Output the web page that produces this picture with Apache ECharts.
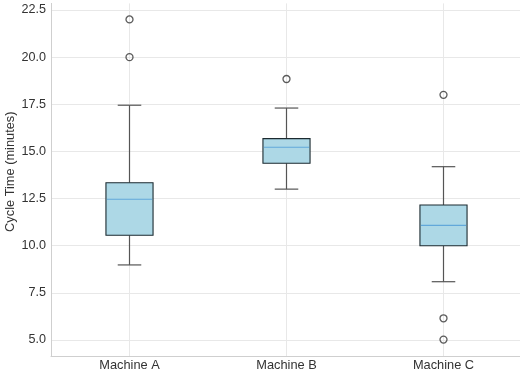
<!DOCTYPE html>
<html>
<head>
<meta charset="utf-8">
<script src="https://cdn.jsdelivr.net/npm/echarts@6/dist/echarts.min.js"></script>
<style>html,body{margin:0;padding:0;background:#fff}#c{width:520px;height:372px}</style>
</head>
<body>
<div id="c"></div>
<script>
const categories = ['Machine A', 'Machine B', 'Machine C'];
const whiskerLow = [8.98, 13.0, 8.09];
const q1 = [10.55, 14.37, 10.0];
const median = [12.46, 15.22, 11.08];
const q3 = [13.34, 15.68, 12.16];
const whiskerHigh = [17.45, 17.3, 14.19];
const outliersA = [22.0, 20.0];
const outliersB = [18.84];
const outliersC = [18.0, 6.15, 5.02];
const yTicks = [5.0, 7.5, 10.0, 12.5, 15.0, 17.5, 20.0, 22.5];

const boxData = categories.map((c, i) => [i + 1, whiskerLow[i], q1[i], median[i], q3[i], whiskerHigh[i]]);
const outlierData = [];
[outliersA, outliersB, outliersC].forEach((arr, i) => arr.forEach(v => outlierData.push([i + 1, v])));

const font = 'Liberation Sans, Arial, sans-serif';
const chart = echarts.init(document.getElementById('c'), null, {renderer: 'canvas'});
chart.setOption({
  animation: false,
  grid: {left: 51, top: 3.4, width: 471, bottom: 16, containLabel: false, outerBoundsMode: 'none'},
  xAxis: {
    type: 'value', min: 0.5, max: 3.5,
    axisLine: {show: true, lineStyle: {color: '#cfcfcf', width: 1}},
    axisTick: {show: false, customValues: [1, 2, 3]},
    axisLabel: {customValues: [1, 2, 3], formatter: v => categories[Math.round(v) - 1] || '',
      color: '#333', fontSize: 12.8, fontFamily: font, margin: 3},
    splitLine: {show: true, lineStyle: {color: '#e8e8e8', width: 1}}
  },
  yAxis: {
    type: 'value', min: 4.15, max: 22.85,
    name: 'Cycle Time (minutes)', nameLocation: 'middle', nameGap: 34, nameMoveOverlap: false,
    nameTextStyle: {color: '#333', fontSize: 12.8, fontFamily: font, padding: [0, 0, 0, 16]},
    axisLine: {show: true, lineStyle: {color: '#cfcfcf', width: 1}},
    axisTick: {show: false, customValues: yTicks},
    axisLabel: {customValues: yTicks, formatter: v => v.toFixed(1),
      color: '#333', fontSize: 12.6, fontFamily: font, margin: 5},
    splitLine: {show: true, lineStyle: {color: '#e8e8e8', width: 1}}
  },
  series: [
    {
      type: 'custom',
      data: boxData,
      encode: {x: 0, y: [1, 2, 3, 4, 5]},
      renderItem: function (params, api) {
        const x = api.value(0);
        const pLow = api.coord([x, api.value(1)]);
        const pQ1 = api.coord([x, api.value(2)]);
        const pMed = api.coord([x, api.value(3)]);
        const pQ3 = api.coord([x, api.value(4)]);
        const pHigh = api.coord([x, api.value(5)]);
        const bw = api.size([0.3, 0])[0];
        const cw = bw / 2;
        const cx = pQ1[0];
        const wStyle = {stroke: '#555', lineWidth: 1.2, fill: null};
        return {
          type: 'group',
          children: [
            {type: 'line', shape: {x1: cx, y1: pLow[1], x2: cx, y2: pQ1[1]}, style: wStyle},
            {type: 'line', shape: {x1: cx, y1: pQ3[1], x2: cx, y2: pHigh[1]}, style: wStyle},
            {type: 'line', shape: {x1: cx - cw / 2, y1: pLow[1], x2: cx + cw / 2, y2: pLow[1]}, style: wStyle},
            {type: 'line', shape: {x1: cx - cw / 2, y1: pHigh[1], x2: cx + cw / 2, y2: pHigh[1]}, style: wStyle},
            {type: 'rect', shape: {x: cx - bw / 2, y: pQ3[1], width: bw, height: pQ1[1] - pQ3[1]},
              style: {fill: '#add8e6', stroke: '#1c2a30', lineWidth: 1.1}},
            {type: 'line', shape: {x1: cx - bw / 2 + 1, y1: pMed[1], x2: cx + bw / 2 - 1, y2: pMed[1]},
              style: {stroke: '#62a8da', lineWidth: 1.1}}
          ]
        };
      },
      z: 3
    },
    {
      type: 'scatter',
      data: outlierData,
      symbol: 'circle',
      symbolSize: 7,
      itemStyle: {color: 'rgba(255,255,255,0)', borderColor: '#333', borderWidth: 1.3},
      z: 4
    }
  ]
});
</script>
</body>
</html>
